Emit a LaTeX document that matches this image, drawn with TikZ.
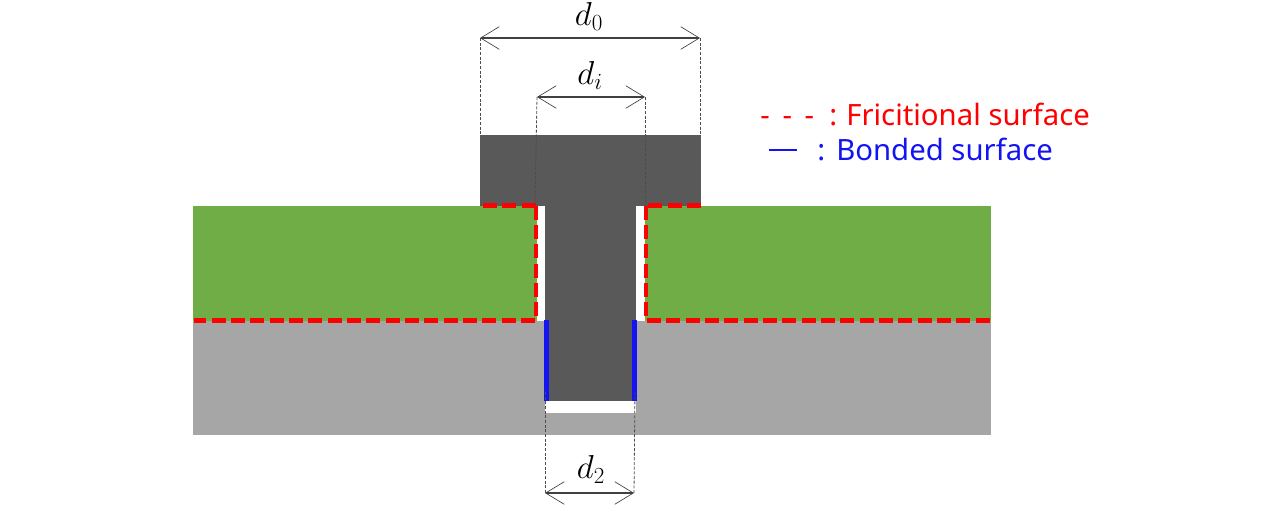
\documentclass[tikz,border=0pt]{standalone}
\usepackage{fontspec}
\setmainfont{Noto Sans}
\usetikzlibrary{arrows.meta}
\definecolor{stem}{HTML}{595959}
\definecolor{grn}{HTML}{70AD47}
\definecolor{gry}{HTML}{A6A6A6}
\definecolor{bondblue}{HTML}{1414F0}
\tikzset{
  x=0.75pt,y=-0.75pt,
  fric/.style={draw=red,line width=3.5pt,dash pattern=on 10.5pt off 4pt},
  bond/.style={draw=bondblue,line width=3.4pt},
  ext/.style={draw=black!70,line width=0.6pt,dash pattern=on 2.2pt off 1.3pt},
  dim/.style={draw=black!75,line width=0.8pt,{Straight Barb[length=14pt,width=17pt,line width=0.5pt]}-{Straight Barb[length=14pt,width=17pt,line width=0.5pt]}},
  lab/.style={inner sep=0pt,font=\fontsize{27pt}{30pt}\selectfont},
  leg/.style={inner sep=0pt,anchor=base west,font=\fontsize{22pt}{26pt}\selectfont},
}
\begin{document}
\begin{tikzpicture}
\useasboundingbox (0,0) rectangle (1284,506);
% bodies
\fill[gry] (193,320.5) rectangle (991,435);
\fill[grn] (193,205.5) rectangle (537,320.5);
\fill[grn] (645,205.5) rectangle (991,320.5);
\fill[white] (537,205.5) rectangle (545,320.5);
\fill[white] (636,205.5) rectangle (645,320.5);
\fill[white] (545,320.5) rectangle (636,413);
\fill[stem] (480,135) rectangle (701,205.5);
\fill[stem] (545,205) rectangle (636,401);
% named points
\coordinate (a0) at (480,38);
\coordinate (b0) at (700,38);
\coordinate (a0f) at (480,135);
\coordinate (b0f) at (700,135);
\coordinate (ai) at (537,97);
\coordinate (bi) at (645,97);
\coordinate (aif) at (535,205);
\coordinate (bif) at (645,205);
\coordinate (a2) at (545,493);
\coordinate (b2) at (634,493);
\coordinate (a2f) at (545,390);
\coordinate (b2f) at (635,390);
% frictional surfaces
\draw[fric] (483,205.5) -- (537,205.5);
\draw[fric] (536,205.5) -- (536,320.5) -- (194,320.5);
\draw[fric] (701,205.5) -- (647,205.5);
\draw[fric] (646,205.5) -- (646,320.5) -- (991,320.5);
% bonded surfaces
\draw[bond] (546.5,320) -- (546.5,401);
\draw[bond] (634.5,320) -- (634.5,401);
% dimensions
\draw[ext] (a0) -- (a0f);
\draw[ext] (b0) -- (b0f);
\draw[ext] (ai) -- (aif);
\draw[ext] (bi) -- (bif);
\draw[ext] (a2) -- (a2f);
\draw[ext] (b2) -- (b2f);
\draw[dim] (a0) -- (b0);
\draw[dim] (ai) -- (bi);
\draw[dim] (a2) -- (b2);
\node[lab] (d0) at (589,16) {$d_0$};
\node[lab] (di) at (590,75) {$d_i$};
\node[lab] (d2) at (591,469) {$d_2$};
% legend
\node[leg,text=red] (frlegd) at (760,126) {-\hspace{9.6pt}-\hspace{9.6pt}-};
\node[leg,text=red] (frlegc) at (829,126) {:};
\node[leg,text=red] (frleg) at (846,126) {Fricitional surface};
\draw[bondblue,line width=2.2pt] (769,150) -- (797,150);
\node[leg,text=bondblue] (bdlegc) at (817,161) {:};
\node[leg,text=bondblue] (bdleg) at (836,161) {Bonded surface};
\end{tikzpicture}
\end{document}
